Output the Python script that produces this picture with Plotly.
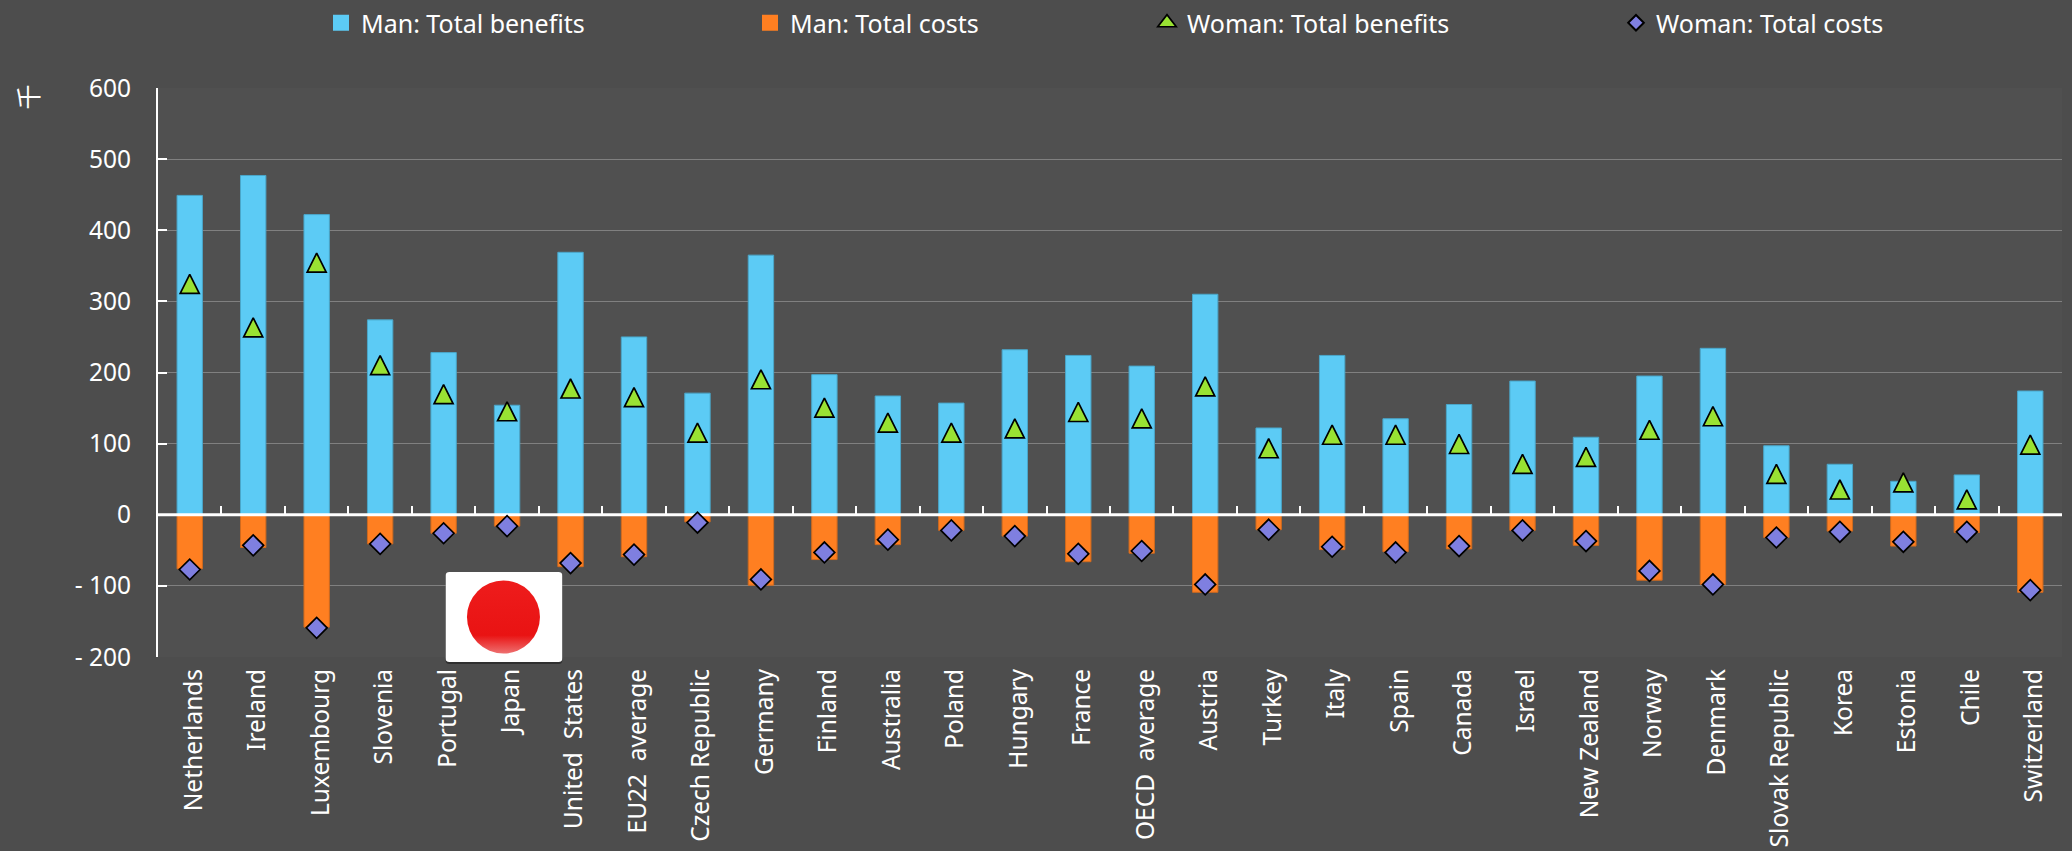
import base64
import plotly.graph_objects as go

categories = ["Netherlands", "Ireland", "Luxembourg", "Slovenia", "Portugal", "Japan",
              "United\u00a0\u00a0States", "EU22\u00a0\u00a0average", "Czech Republic", "Germany", "Finland",
              "Australia", "Poland", "Hungary", "France", "OECD\u00a0\u00a0average", "Austria",
              "Turkey", "Italy", "Spain", "Canada", "Israel", "New Zealand", "Norway",
              "Denmark", "Slovak Republic", "Korea", "Estonia", "Chile", "Switzerland"]
man_benefits = [449, 477, 422, 274, 228, 154, 369, 250, 171, 365, 197, 167, 157, 232, 224,
                209, 310, 122, 224, 135, 155, 188, 109, 195, 234, 97, 71, 47, 56, 174]
man_costs = [-76, -46, -158, -41, -26, -16, -73, -59, -10, -99, -63, -42, -22, -30, -66,
             -54, -109, -21, -49, -52, -48, -22, -43, -92, -98, -32, -23, -44, -25, -109]
woman_benefits = [320, 259, 350, 206, 165, 141, 173, 161, 111, 186, 146, 125, 111, 117, 140,
                  131, 176, 89, 108, 108, 95, 67, 77, 115, 134, 53, 31, 41, 17, 94]
woman_costs = [-77, -43, -159, -41, -26, -16, -68, -56, -11, -91, -53, -35, -22, -30, -55,
               -51, -98, -21, -45, -53, -44, -22, -37, -79, -98, -32, -24, -38, -24, -106]
y_ticks = [-200, -100, 0, 100, 200, 300, 400, 500, 600]
y_labels = ["- 200", "- 100", "0", "100", "200", "300", "400", "500", "600"]

W, H = 2072, 851
L, R, T, B = 157.5, 2061.7, 88, 657
FONT = "Noto Sans"
BG, PLOT_BG = "#4d4d4d", "#505050"
BLUE, ORANGE = "#5ccbf5", "#ff7f21"
xs = list(range(len(categories)))

fig = go.Figure()
fig.add_bar(x=xs, y=man_benefits, name="Man: Total benefits", width=0.4, showlegend=False,
            marker=dict(color=BLUE, line=dict(color="#4aa6c9", width=1)))
fig.add_bar(x=xs, y=man_costs, name="Man: Total costs", width=0.4, showlegend=False,
            marker=dict(color=ORANGE, line=dict(color="#d06a1e", width=1)))
# Zero line sits above the bars and below the markers, as in the reference.
fig.add_scatter(x=[xs[0] - 0.5, xs[-1] + 0.5], y=[0, 0], mode="lines", showlegend=False,
                hoverinfo="skip", line=dict(color="#ffffff", width=3), cliponaxis=False)
fig.add_scatter(x=xs, y=woman_benefits, name="Woman: Total benefits", mode="markers", legend="legend3",
                marker=dict(symbol="triangle-up", size=20, color="#99e233", line=dict(color="#000000", width=1.7)))
fig.add_scatter(x=xs, y=woman_costs, name="Woman: Total costs", mode="markers", legend="legend4",
                marker=dict(symbol="diamond", size=16, color="#7f7fe0", line=dict(color="#000000", width=1.7)))
# Square legend keys for the bars (plotly's bar keys have a fixed, smaller size).
fig.add_scatter(x=[None], y=[None], name="Man: Total benefits", mode="markers", legend="legend",
                marker=dict(symbol="square", size=16, color=BLUE), hoverinfo="skip")
fig.add_scatter(x=[None], y=[None], name="Man: Total costs", mode="markers", legend="legend2",
                marker=dict(symbol="square", size=16, color=ORANGE), hoverinfo="skip")


def legend_at(px, sizing="trace"):
    return dict(x=px / W, y=1 - 23 / H, xref="container", yref="container", xanchor="left", yanchor="middle",
                bgcolor="rgba(0,0,0,0)", font=dict(family=FONT, size=25, color="#ffffff"),
                itemwidth=30, itemsizing=sizing, orientation="h")


svg = """<svg xmlns='http://www.w3.org/2000/svg' width='117' height='92' viewBox='0 0 117 92'>
<defs><linearGradient id='g' x1='0' y1='0' x2='0' y2='1'>
<stop offset='0' stop-color='#ee1c1c'/><stop offset='0.75' stop-color='#e91313'/><stop offset='1' stop-color='#ee7070'/>
</linearGradient></defs>
<rect x='0' y='1' width='117' height='91' rx='4' fill='#2f2f2f'/>
<rect x='0' y='0' width='117' height='90' rx='4' fill='#ffffff'/>
<circle cx='58' cy='45' r='36.5' fill='url(#g)'/></svg>"""
flag = "data:image/svg+xml;base64," + base64.b64encode(svg.encode()).decode()

fig.update_layout(
    width=W, height=H, autosize=False, barmode="overlay",
    margin=dict(l=L, r=W - R, t=T, b=H - B, pad=0, autoexpand=False),
    paper_bgcolor=BG, plot_bgcolor=PLOT_BG,
    font=dict(family=FONT, size=24, color="#ffffff"),
    showlegend=True,
    legend=legend_at(321),
    legend2=legend_at(750),
    legend3=legend_at(1147),
    legend4=legend_at(1616, "constant"),
    xaxis=dict(range=[-0.5, len(categories) - 0.5], tickmode="array", tickvals=xs, ticktext=categories,
               tickangle=-90, ticks="", showgrid=False, zeroline=False, showline=False,
               ticklabelstandoff=6, ticklabelshift=4, tickfont=dict(family=FONT, size=24.5, color="#ffffff")),
    xaxis2=dict(range=[-0.5, len(categories) - 0.5], overlaying="x", anchor="free", position=0.25,
                tick0=-0.5, dtick=1, ticks="inside", ticklen=9, tickwidth=1.5, tickcolor="#ffffff",
                showticklabels=False, showgrid=False, zeroline=False, showline=False),
    yaxis=dict(range=[-200, 600], tickmode="array", tickvals=y_ticks, ticktext=y_labels,
               ticks="inside", ticklen=9, tickwidth=2, tickcolor="#ffffff",
               showline=True, linecolor="#ffffff", linewidth=2,
               showgrid=True, gridcolor="#808080", gridwidth=1.3, zeroline=False,
               ticklabelstandoff=20, tickfont=dict(family=FONT, size=24.5, color="#ffffff")),
    annotations=[dict(text="千", textangle=-90, xref="paper", yref="paper",
                      x=(26 - L) / (R - L), y=1 - (97 - T) / (B - T), xanchor="center", yanchor="middle",
                      showarrow=False, font=dict(family="Noto Sans CJK JP", size=25, color="#ffffff"))],
    images=[dict(source=flag, xref="paper", yref="paper", x=(445 - L) / (R - L), y=1 - (572 - T) / (B - T),
                 sizex=117 / (R - L), sizey=92 / (B - T), sizing="stretch", xanchor="left", yanchor="top",
                 layer="above")],
)
# Invisible point that brings the second x axis (ticks on the zero line) into the chart.
fig.add_scatter(x=[xs[0]], y=[0], xaxis="x2", mode="markers", marker=dict(opacity=0),
                showlegend=False, hoverinfo="skip")

# Plotly's triangle glyph is flatter than the reference's; keep its placement, narrow and raise the outline.
post = """
document.body.style.margin = '0';
document.body.style.overflow = 'hidden';
var tri = /^M-[0-9.]+,[0-9.]+H[0-9.]+L0,-/;
document.querySelectorAll('.scatterlayer path.point').forEach(function (p) {
  if (tri.test(p.getAttribute('d'))) p.setAttribute('d', 'M-9.5,6.3H9.5L0,-12.7Z');
});
document.querySelectorAll('.legend path.scatterpts').forEach(function (p) {
  if (tri.test(p.getAttribute('d'))) p.setAttribute('d', 'M-7.5,7H7.5L0,-9Z');
});
"""
fig.write_html("out.html", config={"displayModeBar": False}, post_script=post)
